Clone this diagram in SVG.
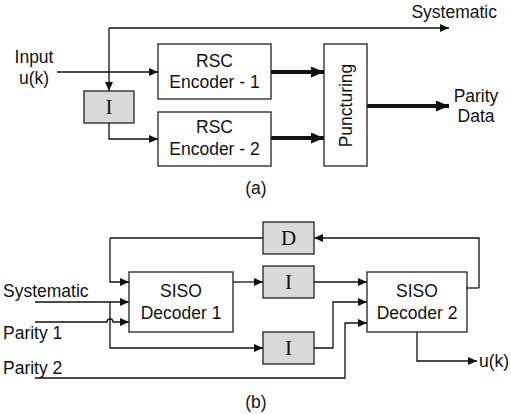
<svg xmlns="http://www.w3.org/2000/svg" width="511" height="414" viewBox="0 0 511 414">
<defs>
<marker id="ah" markerUnits="userSpaceOnUse" markerWidth="10" markerHeight="9" refX="9" refY="4" orient="auto"><path d="M0,0 L9,4 L0,8 z" fill="#111"/></marker>
<marker id="ahb" markerUnits="userSpaceOnUse" markerWidth="14" markerHeight="12" refX="13" refY="5.5" orient="auto"><path d="M0,0 L13,5.5 L0,11 z" fill="#111"/></marker>
<style>
.box{fill:#fff;stroke:#222;stroke-width:1.3}
.gbox{fill:#d9d9d9;stroke:#222;stroke-width:1.3}
.ln{fill:none;stroke:#111;stroke-width:1.3}
.a{marker-end:url(#ah)}
.tk{fill:none;stroke:#111;stroke-width:4;marker-end:url(#ahb)}
.t{font-family:"Liberation Sans",Arial,sans-serif;font-size:17.5px;fill:#111}
.m{text-anchor:middle}
.s{font-family:"Liberation Serif","Times New Roman",serif;font-size:21px;fill:#111;text-anchor:middle}
</style>
</defs>

<g id="connectors">
<!-- (a) -->
<path class="ln a" d="M109,28 H449"/>
<path class="ln a" d="M109,28 V91"/>
<path class="ln a" d="M57,72 H158"/>
<path class="ln a" d="M109,123 V139 H158"/>
<path class="tk" d="M271,72 H324"/>
<path class="tk" d="M271,138 H324"/>
<path class="tk" d="M367,106 H449"/>
<!-- (b) -->
<path class="ln a" d="M110,238 V282 H129"/>
<path class="ln" d="M110,238 H263"/>
<path class="ln a" d="M479,288 H479 V238 H314"/>
<path class="ln" d="M467,288 H479"/>
<path class="ln a" d="M35,302 H129"/>
<path class="ln a" d="M110,302 V348 H263"/>
<path class="ln a" d="M35,322 H107 A3,3 0 0 1 113,322 H129"/>
<path class="ln a" d="M233,282 H263"/>
<path class="ln a" d="M314,282 H367"/>
<path class="ln a" d="M314,348 H333 V302 H367"/>
<path class="ln a" d="M35,378 H345 V323 H367"/>
<path class="ln a" d="M417,332 V361 H477"/>
</g>

<g id="labels">
<text class="t m" x="34" y="63">Input</text>
<text class="t m" x="34" y="84">u(k)</text>
<text class="t" x="497" y="18" text-anchor="end">Systematic</text>
<text class="t m" x="476" y="102">Parity</text>
<text class="t m" x="476" y="122">Data</text>
<text class="t m" x="256" y="194">(a)</text>
<text class="t" x="3" y="297">Systematic</text>
<text class="t" x="3" y="339">Parity 1</text>
<text class="t" x="3" y="374">Parity 2</text>
<text class="t" x="479" y="367">u(k)</text>
<text class="t m" x="256" y="408">(b)</text>
</g>

<g id="rsc1">
<rect class="box" x="158" y="44" width="113" height="55"/>
<text class="t m" x="214.5" y="67">RSC</text>
<text class="t m" x="214.5" y="88">Encoder - 1</text>
</g>
<g id="rsc2">
<rect class="box" x="158" y="112" width="113" height="54"/>
<text class="t m" x="214.5" y="133">RSC</text>
<text class="t m" x="214.5" y="155">Encoder - 2</text>
</g>
<g id="interleaver-a">
<rect class="gbox" x="84" y="91" width="50" height="32"/>
<text class="s" x="109" y="114">I</text>
</g>
<g id="puncturing">
<rect class="box" x="324" y="44" width="43" height="122"/>
<text class="t m" transform="translate(352,105.5) rotate(-90)">Puncturing</text>
</g>

<g id="dec1">
<rect class="box" x="129" y="272" width="104" height="60"/>
<text class="t m" x="181" y="297">SISO</text>
<text class="t m" x="181" y="319">Decoder 1</text>
</g>
<g id="dec2">
<rect class="box" x="367" y="272" width="100" height="60"/>
<text class="t m" x="417" y="297">SISO</text>
<text class="t m" x="417" y="319">Decoder 2</text>
</g>
<g id="deint">
<rect class="gbox" x="263" y="222" width="51" height="32"/>
<text class="s" x="288.5" y="245">D</text>
</g>
<g id="int1">
<rect class="gbox" x="263" y="266" width="51" height="32"/>
<text class="s" x="288.5" y="289">I</text>
</g>
<g id="int2">
<rect class="gbox" x="263" y="332" width="51" height="32"/>
<text class="s" x="288.5" y="355">I</text>
</g>
</svg>
